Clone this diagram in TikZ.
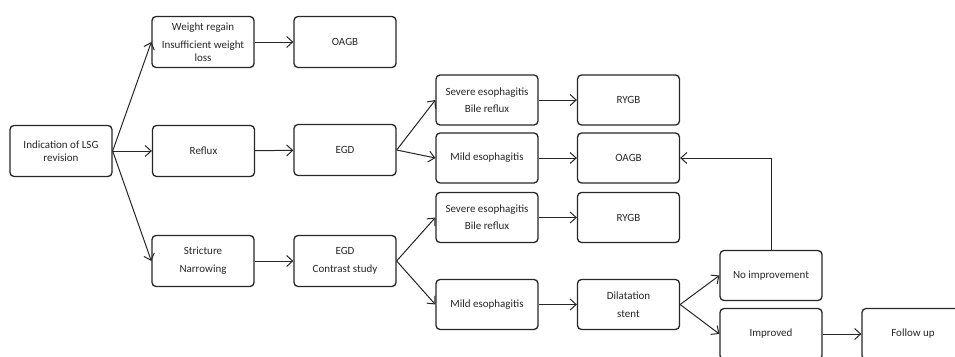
\documentclass[tikz,border=0pt]{standalone}
\usepackage{fontspec}
\setmainfont{Carlito}
\usetikzlibrary{arrows.meta}
\tikzset{
  box/.style={draw=black!85, line width=1.3pt, rounded corners=4pt, minimum width=102pt, minimum height=51pt, align=center, font=\fontsize{11}{13}\selectfont, text=black!85, inner sep=1pt},
  sbox/.style={box, minimum height=50pt},
  arr/.style={draw=black!85, line width=1pt, -{Straight Barb[length=6pt,width=11pt,line width=1pt]}}
}
\begin{document}
\begin{tikzpicture}[x=1pt,y=-1pt]
\useasboundingbox (0,0) rectangle (955,356);
\clip (0,0) rectangle (955,356);
\node[box] (ind) at (61,151) {Indication of LSG\\revision};
\node[box] (wr) at (203,42) {Weight regain\\[5pt]Insufficient weight\\loss};
\node[box] (oagb1) at (345,42) {OAGB};
\node[box] (reflux) at (203.5,151) {Reflux};
\node[box] (egd) at (345,150) {EGD};
\node[box] (str) at (203,261) {Stricture\\[5pt]Narrowing};
\node[box] (egdc) at (345,261) {EGD\\[5pt]Contrast study};
\node[sbox] (sev1) at (487,100) {Severe esophagitis\\[4pt]Bile reflux};
\node[sbox] (rygb1) at (628.5,100) {RYGB};
\node[sbox] (mild1) at (487,158) {Mild esophagitis};
\node[sbox] (oagb2) at (628.5,158) {OAGB};
\node[sbox] (sev2) at (487,217.5) {Severe esophagitis\\[4pt]Bile reflux};
\node[sbox] (rygb2) at (628.5,217.5) {RYGB};
\node[sbox] (mild2) at (487,304.5) {Mild esophagitis};
\node[sbox] (dil) at (628.5,304.5) {Dilatation\\[5pt]stent};
\node[sbox] (noimp) at (771,275.5) {No improvement};
\node[box] (imp) at (771,334) {Improved};
\node[box] (fu) at (913,334) {Follow up};
\draw[arr] (ind.east) -- (wr.west);
\draw[arr] (ind.east) -- (reflux.west);
\draw[arr] (ind.east) -- (str.west);
\draw[arr] (wr) -- (oagb1);
\draw[arr] (reflux) -- (egd);
\draw[arr] (str) -- (egdc);
\draw[arr] (egd.east) -- (sev1.west);
\draw[arr] (egd.east) -- (mild1.west);
\draw[arr] (egdc.east) -- (sev2.west);
\draw[arr] (egdc.east) -- (mild2.west);
\draw[arr] (sev1) -- (rygb1);
\draw[arr] (mild1) -- (oagb2);
\draw[arr] (sev2) -- (rygb2);
\draw[arr] (mild2) -- (dil);
\draw[arr] (dil.east) -- (noimp.west);
\draw[arr] (dil.east) -- (imp.west);
\draw[arr] (imp) -- (fu);
\draw[arr] (noimp.north) |- (oagb2.east);
\end{tikzpicture}
\end{document}
